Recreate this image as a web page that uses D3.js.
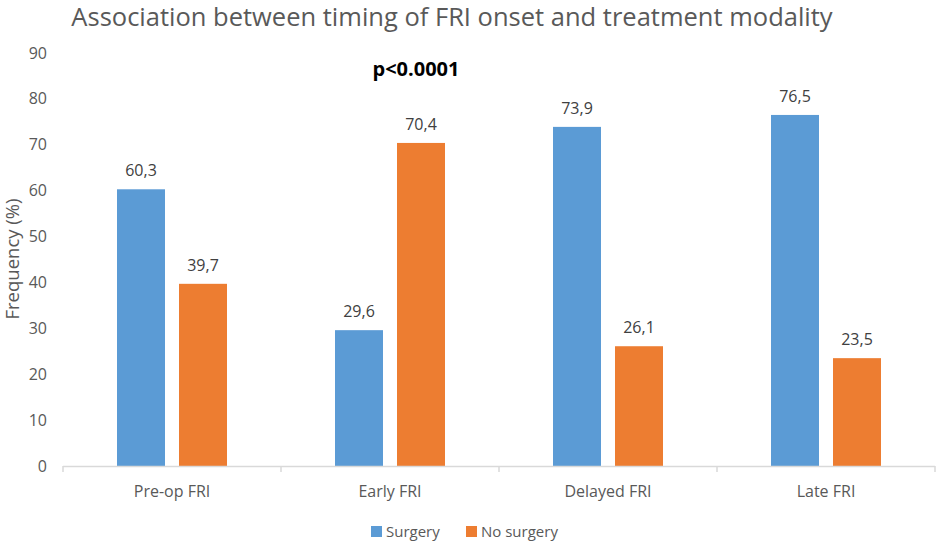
<!DOCTYPE html>
<html><head><meta charset="utf-8">
<script src="https://cdn.jsdelivr.net/npm/d3@7"></script>
<style>body{margin:0;background:#fff;} text{font-family:"Open Sans","Liberation Sans",sans-serif;}</style>
</head><body><svg id="c" width="936" height="542"></svg>
<script>
const categories = ["Pre-op FRI","Early FRI","Delayed FRI","Late FRI"];
const seriesNames = ["Surgery","No surgery"];
const surgery = [60.3,29.6,73.9,76.5];
const noSurgery = [39.7,70.4,26.1,23.5];
const yTicks = [0,10,20,30,40,50,60,70,80,90];
const colors = ["#5B9BD5","#ED7D31"];
const fmt = v => v.toFixed(1).replace(".", ",");

const svg = d3.select("#c");
const x0 = 63, x1 = 935, yTop = 53, yBot = 466;
const x = d3.scaleBand().domain(categories).range([x0,x1]).paddingInner(0).paddingOuter(0);
const xs = d3.scaleBand().domain(seriesNames).range([54, x.bandwidth()-54]).paddingInner(0.226);
const y = d3.scaleLinear().domain([0,90]).range([yBot,yTop]);

svg.append("text").attr("x",452).attr("y",26).attr("text-anchor","middle")
  .attr("font-size",25.5).attr("fill","#595959").text("Association between timing of FRI onset and treatment modality");

// y tick labels
svg.selectAll(".yt").data(yTicks).enter().append("text")
  .attr("x",47).attr("y",d=>y(d)+5.5).attr("text-anchor","end")
  .attr("font-size",16).attr("fill","#595959").text(d=>d);

svg.append("text").attr("transform",`translate(19,259) rotate(-90)`).attr("text-anchor","middle")
  .attr("font-size",18.5).attr("fill","#595959").text("Frequency (%)");

const data = categories.map((c,i)=>({c, vals:[surgery[i],noSurgery[i]]}));
const g = svg.selectAll(".cat").data(data).enter().append("g").attr("transform",d=>`translate(${x(d.c)},0)`);
g.selectAll("rect").data(d=>d.vals.map((v,j)=>({v,s:seriesNames[j],j}))).enter().append("rect")
  .attr("x",d=>xs(d.s)).attr("width",xs.bandwidth()).attr("y",d=>y(d.v)).attr("height",d=>yBot-y(d.v))
  .attr("fill",d=>colors[d.j]);
g.selectAll(".lbl").data(d=>d.vals.map((v,j)=>({v,s:seriesNames[j],j}))).enter().append("text")
  .attr("x",d=>xs(d.s)+xs.bandwidth()/2).attr("y",d=>y(d.v)-13).attr("text-anchor","middle")
  .attr("font-size",16).attr("fill","#404040").text(d=>fmt(d.v));

// axis
svg.append("line").attr("x1",x0).attr("x2",x1).attr("y1",yBot+0.5).attr("y2",yBot+0.5).attr("stroke","#D9D9D9").attr("stroke-width",1.5);
const bounds = categories.map(c=>x(c)).concat([x1]);
svg.selectAll(".tk").data(bounds).enter().append("line")
  .attr("x1",d=>d).attr("x2",d=>d).attr("y1",yBot).attr("y2",yBot+6).attr("stroke","#D9D9D9").attr("stroke-width",1.5);
svg.selectAll(".xl").data(categories).enter().append("text")
  .attr("x",d=>x(d)+x.bandwidth()/2).attr("y",497).attr("text-anchor","middle")
  .attr("font-size",16).attr("fill","#595959").text(d=>d);

svg.append("text").attr("x",416).attr("y",76).attr("text-anchor","middle")
  .attr("font-size",20).attr("font-weight","bold").attr("fill","#000").text("p<0.0001");

// legend
const leg = [{n:seriesNames[0],c:colors[0],x:371},{n:seriesNames[1],c:colors[1],x:466}];
leg.forEach(l=>{
  svg.append("rect").attr("x",l.x).attr("y",526).attr("width",11).attr("height",11).attr("fill",l.c);
  svg.append("text").attr("x",l.x+15).attr("y",537).attr("font-size",15).attr("fill","#595959").text(l.n);
});
</script></body></html>
